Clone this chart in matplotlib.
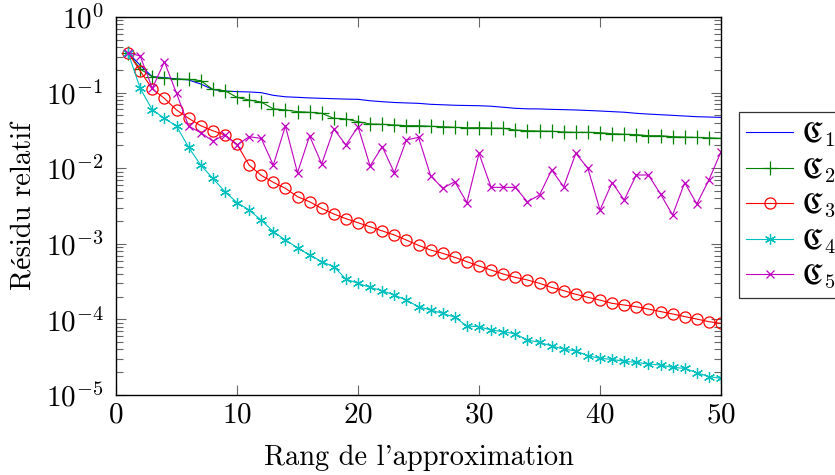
import numpy as np
import matplotlib
matplotlib.use("Agg")
import matplotlib.pyplot as plt
from matplotlib.ticker import LogLocator, NullFormatter

plt.rcParams['font.family'] = ['cmr10', 'Liberation Serif']
plt.rcParams['mathtext.fontset'] = 'cm'
plt.rcParams['axes.formatter.use_mathtext'] = True

rank = list(range(1, 51))

c1 = [0.337, 0.23, 0.162, 0.158, 0.152, 0.147, 0.13, 0.11, 0.105, 0.103,
      0.102, 0.0998, 0.092, 0.088, 0.0866, 0.085, 0.084, 0.083, 0.082, 0.0815,
      0.078, 0.0758, 0.074, 0.073, 0.0721, 0.070, 0.069, 0.068, 0.0675, 0.0671,
      0.066, 0.064, 0.062, 0.061, 0.0608, 0.060, 0.0595, 0.0589, 0.058, 0.0571,
      0.056, 0.055, 0.0532, 0.052, 0.051, 0.050, 0.049, 0.048, 0.0475, 0.047]

c2 = [0.337, 0.205, 0.162, 0.155, 0.151, 0.150, 0.144, 0.110, 0.106, 0.0865,
      0.0798, 0.075, 0.061, 0.059, 0.056, 0.0549, 0.0532, 0.0457, 0.0448, 0.0413,
      0.0385, 0.0381, 0.0373, 0.0365, 0.0365, 0.0358, 0.0354, 0.0347, 0.0343, 0.0343,
      0.034, 0.0337, 0.032, 0.0313, 0.031, 0.0308, 0.0301, 0.0298, 0.0298, 0.0295,
      0.0286, 0.0281, 0.0278, 0.0269, 0.0269, 0.0261, 0.0258, 0.0255, 0.0252, 0.0248]

c3 = [0.337, 0.193, 0.1116, 0.084, 0.059, 0.0457, 0.0365, 0.0313, 0.0275, 0.0207,
      0.011, 0.00805, 0.0065, 0.00542, 0.0042, 0.0036, 0.00294, 0.00248, 0.00215, 0.0019,
      0.00168, 0.00148, 0.00131, 0.00112, 0.000954, 0.000828, 0.000748, 0.000662, 0.00058, 0.000508,
      0.00045, 0.000398, 0.00036, 0.000332, 0.0003, 0.000265, 0.00024, 0.000215, 0.000196, 0.00018,
      0.000163, 0.000155, 0.000147, 0.000137, 0.000127, 0.000118, 0.000109, 0.000101, 0.0000933, 0.0000887]

c4 = [0.337, 0.114, 0.059, 0.0457, 0.0361, 0.0189, 0.011, 0.00735, 0.00489, 0.0035,
      0.0028, 0.00206, 0.00145, 0.00112, 0.00089, 0.00071, 0.00058, 0.000499, 0.000342, 0.0003,
      0.000265, 0.00024, 0.00021, 0.00018, 0.000147, 0.000133, 0.00012, 0.000107, 0.0000818, 0.00008,
      0.0000724, 0.0000688, 0.0000643, 0.0000534, 0.0000498, 0.0000445, 0.0000406, 0.0000382, 0.0000331, 0.0000305,
      0.0000296, 0.0000279, 0.000027, 0.0000257, 0.0000249, 0.0000232, 0.0000225, 0.0000197, 0.0000175, 0.0000166]

c5 = [0.337, 0.305, 0.114, 0.256, 0.098, 0.0361, 0.0295, 0.0229, 0.0275, 0.0203,
      0.0261, 0.0248, 0.011, 0.0361, 0.00872, 0.0267, 0.0114, 0.033, 0.0203, 0.0354,
      0.0107, 0.0193, 0.00872, 0.0236, 0.0256, 0.00796, 0.00542, 0.00664, 0.0035, 0.0157,
      0.00558, 0.00558, 0.00558, 0.0036, 0.00442, 0.00946, 0.0057, 0.0157, 0.00996, 0.0028,
      0.00644, 0.0038, 0.00813, 0.00813, 0.00456, 0.0024, 0.00644, 0.00336, 0.00698, 0.0165]

labels = [r'$\mathfrak{C}_1$', r'$\mathfrak{C}_2$', r'$\mathfrak{C}_3$',
          r'$\mathfrak{C}_4$', r'$\mathfrak{C}_5$']

fig = plt.figure(figsize=(8.35, 4.75), dpi=100)
ax = fig.add_axes([116 / 835, 1 - 395 / 475, 605 / 835, 378 / 475])

lw = 0.8
ax.plot(rank, c1, color='b', lw=lw, label=labels[0])
ax.plot(rank, c2, color='g', lw=lw, marker='+', ms=10, mew=0.9, label=labels[1])
ax.plot(rank, c3, color='r', lw=lw, marker='o', ms=8, mfc='none', mew=0.9, label=labels[2])
ax.plot(rank, c4, color='c', lw=lw, marker=(6, 2, 0), ms=8, mew=0.9, label=labels[3])
ax.plot(rank, c5, color='m', lw=lw, marker='x', ms=6, mew=0.9, label=labels[4])

ax.set_yscale('log')
ax.set_xlim(0, 50)
ax.set_ylim(1e-5, 1)
ax.set_xticks([0, 10, 20, 30, 40, 50])
ax.yaxis.set_major_locator(LogLocator(base=10, numticks=10))
ax.yaxis.set_minor_locator(LogLocator(base=10, subs=np.arange(2, 10), numticks=20))
ax.yaxis.set_minor_formatter(NullFormatter())

ax.tick_params(which='both', direction='in', top=True, right=True, color='#666666',
               labelsize=21, width=0.8)
ax.tick_params(axis='y', pad=9)
ax.tick_params(axis='x', pad=5)
ax.tick_params(which='major', length=7.5)
ax.tick_params(which='minor', length=5)
for s in ax.spines.values():
    s.set_linewidth(1.0)

ax.set_xlabel("Rang de l'approximation", fontsize=20.5, labelpad=12)
ax.set_ylabel("Résidu relatif", fontsize=20.5, labelpad=6)

leg = ax.legend(loc='upper left', bbox_to_anchor=(739 / 835, 1 - 112 / 475),
                bbox_transform=fig.transFigure, fontsize=21, handlelength=1.6,
                frameon=True, fancybox=False, edgecolor='black', borderpad=0.25,
                labelspacing=0.2, handletextpad=0.3, borderaxespad=0)
leg.get_frame().set_linewidth(0.9)

fig.savefig('out.png', dpi=100)
